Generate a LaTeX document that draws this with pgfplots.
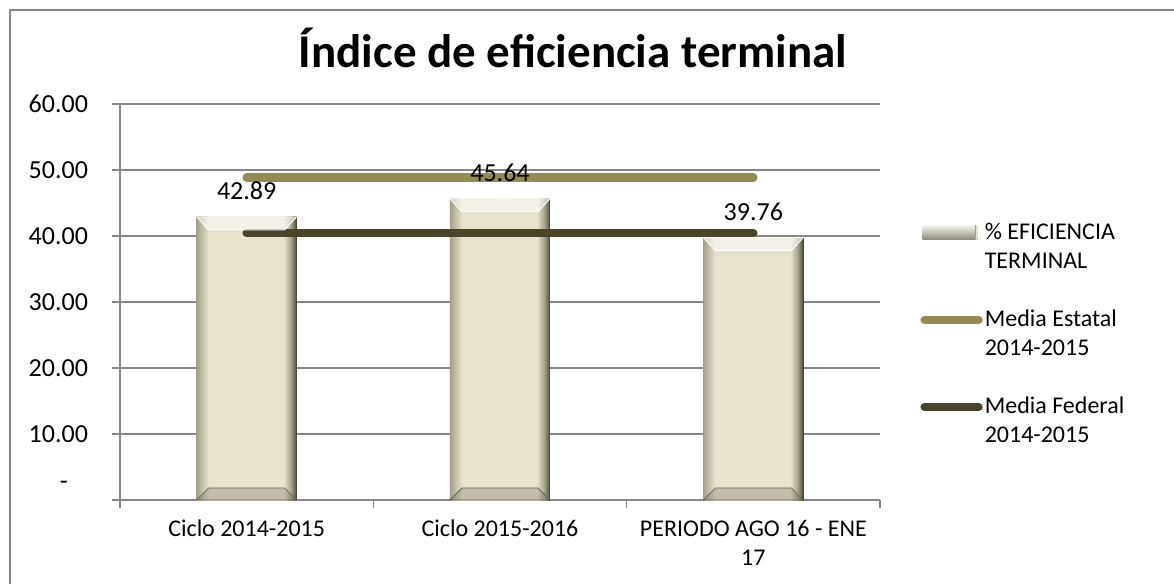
\documentclass[border=0pt]{standalone}
\usepackage{fontspec}
\setmainfont{Carlito}
\usepackage{pgfplots}
\pgfplotsset{compat=1.18}
\definecolor{gridc}{HTML}{868686}
\definecolor{estatal}{HTML}{948A54}
\definecolor{federal}{HTML}{4A452A}
\definecolor{barM}{HTML}{E8E3CD}
\definecolor{barL}{HTML}{A4A08A}
\definecolor{barR}{HTML}{3A382C}
\definecolor{barR2}{HTML}{A8A48E}
\definecolor{barR3}{HTML}{6C6A56}
\pgfdeclarehorizontalshading{barshade}{100bp}{color(0bp)=(barL); color(25bp)=(barL); color(31bp)=(barM); color(68.5bp)=(barM); color(72bp)=(barR2); color(74bp)=(barR3); color(75bp)=(barR); color(100bp)=(barR)}
\pgfdeclareplotmark{topbevel}{\fill[white, fill opacity=0.55] (-25pt,0pt) -- (25pt,0pt) -- (19pt,-6.5pt) -- (-19pt,-6.5pt) -- cycle;}
\pgfdeclareplotmark{botbevel}{\fill[black!55!barM, fill opacity=0.3] (-25pt,0pt) -- (25pt,0pt) -- (19pt,6pt) -- (-19pt,6pt) -- cycle;}
\pgfplotsset{
  linelegend/.style={legend image code/.code={\draw[##1] (1pt,7.25pt) -- (28pt,7.25pt);}},
  barlegend/.style={legend image code/.code={\shade[top color=white!50!barM, bottom color=black!40!barM] (0pt,3.75pt) rectangle (27.5pt,10.75pt); \fill[barR] (26.2pt,3.75pt) rectangle (27.5pt,10.75pt);}},
  onebar/.style={ybar, bar shift=0pt, bar width=50pt, draw=none, shading=barshade},
}
\begin{document}
\begin{tikzpicture}
\path[use as bounding box] (-60pt,-42pt) rectangle (527pt,250pt);
\draw[gridc, line width=0.75pt] (-55pt,-42pt) -- (-55pt,245pt) -- (527pt,245pt);
\node[font=\bfseries\fontsize{23.5}{28}\selectfont] at (226.5pt,226pt) {Índice de eficiencia terminal};
\begin{axis}[
  scale only axis, width=380pt, height=198pt,
  font=\fontsize{12}{14.5}\selectfont,
  xmin=-0.5, xmax=2.5, ymin=0, ymax=60,
  axis x line*=bottom, axis y line*=left,
  axis line style={draw=gridc, line width=0.75pt, -},
  ytick={0,10,20,30,40,50,60},
  yticklabels={\raisebox{5.5pt}[0pt][0pt]{\makebox[14pt][l]{-}},10.00,20.00,30.00,40.00,50.00,60.00},
  ymajorgrids, grid style={draw=gridc, line width=0.75pt},
  tick align=outside, major tick length=4pt,
  tick style={draw=gridc, line width=0.75pt},
  xtick={-0.5,0.5,1.5,2.5}, xticklabels={},
  extra x ticks={0,1,2},
  extra x tick labels={Ciclo 2014-2015,Ciclo 2015-2016,{PERIODO AGO 16 - ENE\\17}},
  extra x tick style={grid=none, major tick length=0pt, xticklabel style={align=center, yshift=-6.5pt}},
  yticklabel style={xshift=-8.5pt, font=\fontsize{13}{15}\selectfont},
  legend style={at={(1,0.418)}, anchor=west, xshift=20pt, draw=none, fill=none,
    inner sep=0pt, row sep=17.25pt, column sep=0pt, nodes={inner sep=1pt}, cells={align=left}},
  legend cell align=left,
]
\addplot[onebar, barlegend] coordinates {(0,42.89)};
\addlegendentry{\% EFICIENCIA\\TERMINAL}
\addplot[onebar, forget plot] coordinates {(1,45.64)};
\addplot[onebar, forget plot] coordinates {(2,39.76)};
\addplot[only marks, mark=botbevel, forget plot] coordinates {(0,0) (1,0) (2,0)};
\addplot[only marks, mark=topbevel, forget plot,
  nodes near coords,
  nodes near coords style={text=black, font=\fontsize{13}{15}\selectfont, anchor=south, yshift=5pt, /pgf/number format/.cd, fixed, fixed zerofill, precision=2, assume math mode=true}
] coordinates {(0,42.89) (1,45.64) (2,39.76)};
\addplot[estatal, line width=4.2pt, line cap=round, no marks, sharp plot, linelegend] coordinates {(0,48.85) (2,48.85)};
\addlegendentry{Media Estatal\\2014-2015}
\addplot[federal, line width=4.2pt, line cap=round, no marks, sharp plot, linelegend] coordinates {(0,40.45) (2,40.45)};
\addlegendentry{Media Federal\\2014-2015}
\end{axis}
\end{tikzpicture}
\end{document}
